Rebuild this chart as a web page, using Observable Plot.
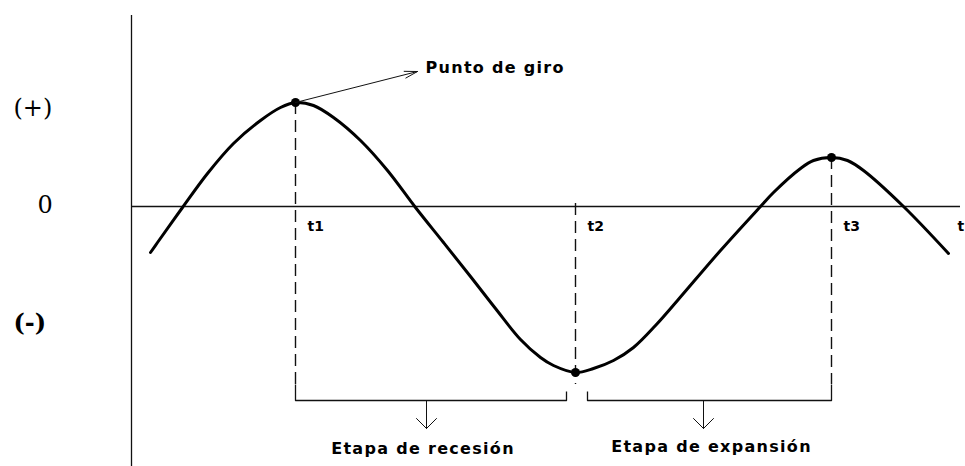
<!DOCTYPE html>
<html><head><meta charset="utf-8">
<script src="https://cdn.jsdelivr.net/npm/d3@7"></script>
<script src="https://cdn.jsdelivr.net/npm/@observablehq/plot@0.6"></script>
<style>html,body{margin:0;padding:0;background:#fff}#chart svg{display:block}</style>
</head><body><div id="chart"></div>
<script>
// Business cycle curve (time units along x, activity level along y; 0 = trend)
const curveX = [19, 26, 51, 76, 102, 129, 149, 164, 182, 202, 229, 256, 284, 312, 339, 364, 389, 409, 422, 444, 462, 482, 502, 524, 546, 589, 629, 642, 669, 682, 700, 716, 732, 772, 817];
const curveY = [-46, -36, -1, 33, 63, 86, 99, 104, 101, 89, 66, 36, -1, -36, -70, -102, -133, -151, -159, -166, -162, -154, -141, -119, -94, -44, 0, 14, 38, 46, 49, 46, 36, 0, -47];

// Turning points
const turnLabels = ["t1", "t2", "t3"];
const turnX = [164, 444, 700];
const turnY = [104, -166, 49];

// Value-side labels
const signLabels = ["(+)", "0", "(-)"];
const signY = [98, 1, -117];

// Stage labels
const stageLabels = ["Etapa de recesión", "Etapa de expansión"];
const stageFrom = [164, 456];
const stageTo = [435, 700];
const stageArrowX = [295, 572];

const pointLabel = "Punto de giro";

// ---- build tables ----
const curve = curveX.map((x, i) => ({x, y: curveY[i]}));
const turns = turnX.map((x, i) => ({x, y: turnY[i], label: turnLabels[i]}));

const xMax = 829, yMin = -260, yMax = 191;
const bracketTop = -178, bracketInner = -185, bracketY = -194, arrowEnd = -222, wing = 10;

const dashes = turns.map((d, i) => ({x: d.x, y1: i === 1 ? 3 : d.y, y2: bracketTop}));

const brackets = [];
stageLabels.forEach((s, i) => {
  const a = stageFrom[i], b = stageTo[i];
  const pts = i === 0
    ? [[a, bracketTop], [a, bracketY], [b, bracketY], [b, bracketInner]]
    : [[a, bracketInner], [a, bracketY], [b, bracketY], [b, bracketTop]];
  pts.forEach(([x, y]) => brackets.push({x, y, id: s}));
});

const arrows = [];
stageArrowX.forEach((x, i) => {
  arrows.push({x, y: bracketY, id: "s" + i}, {x, y: arrowEnd, id: "s" + i});
  arrows.push({x: x - wing, y: arrowEnd + wing, id: "h" + i}, {x, y: arrowEnd, id: "h" + i}, {x: x + wing, y: arrowEnd + wing, id: "h" + i});
});

const signs = signLabels.map((t, i) => ({t, y: signY[i], x: i === 1 ? -94 : -118}));
const stages = stageLabels.map((t, i) => ({t, x: (stageFrom[i] + stageTo[i]) / 2 - 8 + i * 10, y: i === 0 ? -247 : -245}));

const svg = Plot.plot({
  width: 965,
  height: 466,
  marginLeft: 131,
  marginRight: 5,
  marginTop: 15,
  marginBottom: 0,
  x: {domain: [0, xMax], axis: null},
  y: {domain: [yMin, yMax], axis: null},
  marks: [
    Plot.ruleX([0], {y1: yMin, y2: yMax, stroke: "#111", strokeWidth: 1.3}),
    Plot.ruleY([0], {x1: 0, x2: xMax, stroke: "#111", strokeWidth: 1.3}),
    Plot.ruleX(dashes, {x: "x", y1: "y1", y2: "y2", stroke: "#111", strokeWidth: 1.4, strokeDasharray: "12,6"}),
    Plot.line(brackets, {x: "x", y: "y", z: "id", stroke: "#111", strokeWidth: 1.3, strokeLinecap: "butt"}),
    Plot.line(arrows, {x: "x", y: "y", z: "id", stroke: "#111", strokeWidth: 1}),
    Plot.line(curve, {x: "x", y: "y", curve: "catmull-rom", stroke: "#000", strokeWidth: 3}),
    Plot.dot(turns, {x: "x", y: "y", r: 4.5, fill: "#000"}),
    Plot.arrow([{x1: turnX[0], y1: turnY[0], x2: 286, y2: 135}], {x1: "x1", y1: "y1", x2: "x2", y2: "y2", headLength: 20, headAngle: 30, stroke: "#111", strokeWidth: 1}),
    Plot.text([pointLabel], {x: 294, y: 134, text: d => d, textAnchor: "start", lineAnchor: "bottom", fontFamily: "DejaVu Sans", fontWeight: "bold", fontSize: 16, fill: "#000"}),
    Plot.text(turns, {x: d => d.x + 12, y: -24, text: "label", textAnchor: "start", lineAnchor: "bottom", fontFamily: "DejaVu Sans", fontWeight: "bold", fontSize: 14, fill: "#000"}),
    Plot.text(["t"], {x: 826, y: -24, text: d => d, textAnchor: "start", lineAnchor: "bottom", fontFamily: "DejaVu Sans", fontWeight: "bold", fontSize: 14, fill: "#000"}),
    Plot.text(stages, {x: "x", y: "y", text: "t", textAnchor: "middle", lineAnchor: "bottom", fontFamily: "DejaVu Sans", fontWeight: "bold", fontSize: 16, fill: "#000"}),
    Plot.text(signs, {x: "x", y: "y", text: "t", textAnchor: "start", fontFamily: "DejaVu Serif", fontSize: 24, fill: "#000"})
  ]
});

d3.select(svg).selectAll("text").each(function () {
  const t = this.textContent;
  if (t === pointLabel || stageLabels.includes(t)) this.style.letterSpacing = "1.3px";
  if (t === "(-)") this.style.fontWeight = "bold";
});

document.getElementById("chart").appendChild(svg);
</script>
</body></html>
